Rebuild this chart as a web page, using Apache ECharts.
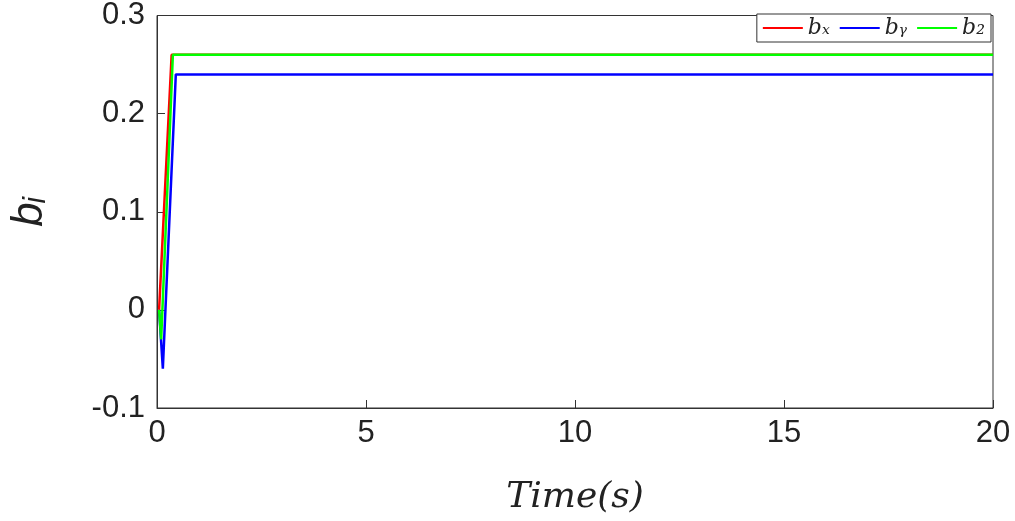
<!DOCTYPE html><html><head><meta charset="utf-8"><script src="https://cdn.jsdelivr.net/npm/echarts@6/dist/echarts.min.js"></script></head><body style="margin:0;background:#fff"><div id="c" style="width:1015px;height:521px"></div><script>
const bxT=[0.05,0.35,20], bxV=[0,0.26,0.26];
const byT=[0.05,0.14,0.45,20], byV=[0,-0.06,0.24,0.24];
const bzT=[0.05,0.1,0.38,20], bzV=[0,-0.03,0.26,0.26];
const yTicks=['-0.1','0','0.1','0.2','0.3'];
const pts=(t,v)=>t.map((x,i)=>[x,v[i]]);
const c=echarts.init(document.getElementById('c'));
const ax={fontSize:31,color:'#222',fontFamily:'Arial, Liberation Sans'};
c.setOption({animation:false,
grid:{left:147,right:22,top:12,bottom:113,show:true,borderColor:'#333',borderWidth:1},
legend:{right:24,top:14,itemWidth:40,itemHeight:2,itemGap:10,icon:'rect',backgroundColor:'#fff',borderColor:'#333',borderWidth:1,padding:[3,6],
 textStyle:{fontSize:22,fontStyle:'italic',fontFamily:'DejaVu Serif',color:'#222'},data:['bx','by','bz'],
 formatter:n=>({bx:'b\u2093',by:'b\u1d67',bz:'b\u2082'})[n]},
xAxis:{type:'value',min:0,max:20,interval:5,axisLine:{onZero:false,lineStyle:{color:'#333'}},axisTick:{inside:true,length:8},splitLine:{show:false},
 axisLabel:Object.assign({margin:10},ax),name:'Time(s)',nameLocation:'middle',nameGap:72,nameTextStyle:{fontSize:36,fontStyle:'italic',fontFamily:'DejaVu Serif',color:'#222'}},
yAxis:{type:'value',min:-0.1,max:0.3,interval:0.1,axisLine:{show:true,onZero:false,lineStyle:{color:'#333'}},axisTick:{show:true,inside:true,length:8},splitLine:{show:false},
 axisLabel:Object.assign({margin:12,formatter:v=>yTicks[Math.round((v+0.1)*10)]},ax),
 name:'b\u1d62',nameLocation:'middle',nameGap:105,nameTextStyle:{fontSize:44,fontStyle:'italic',color:'#222',fontFamily:'Arial'}},
series:[
{name:'bx',type:'line',data:pts(bxT,bxV),showSymbol:false,lineStyle:{color:'#ff0000',width:2.5},itemStyle:{color:'#ff0000'}},
{name:'by',type:'line',data:pts(byT,byV),showSymbol:false,lineStyle:{color:'#0000ff',width:2.5},itemStyle:{color:'#0000ff'}},
{name:'bz',type:'line',data:pts(bzT,bzV),showSymbol:false,lineStyle:{color:'#00ff00',width:2.5},itemStyle:{color:'#00ff00'}}]});
</script></body></html>
